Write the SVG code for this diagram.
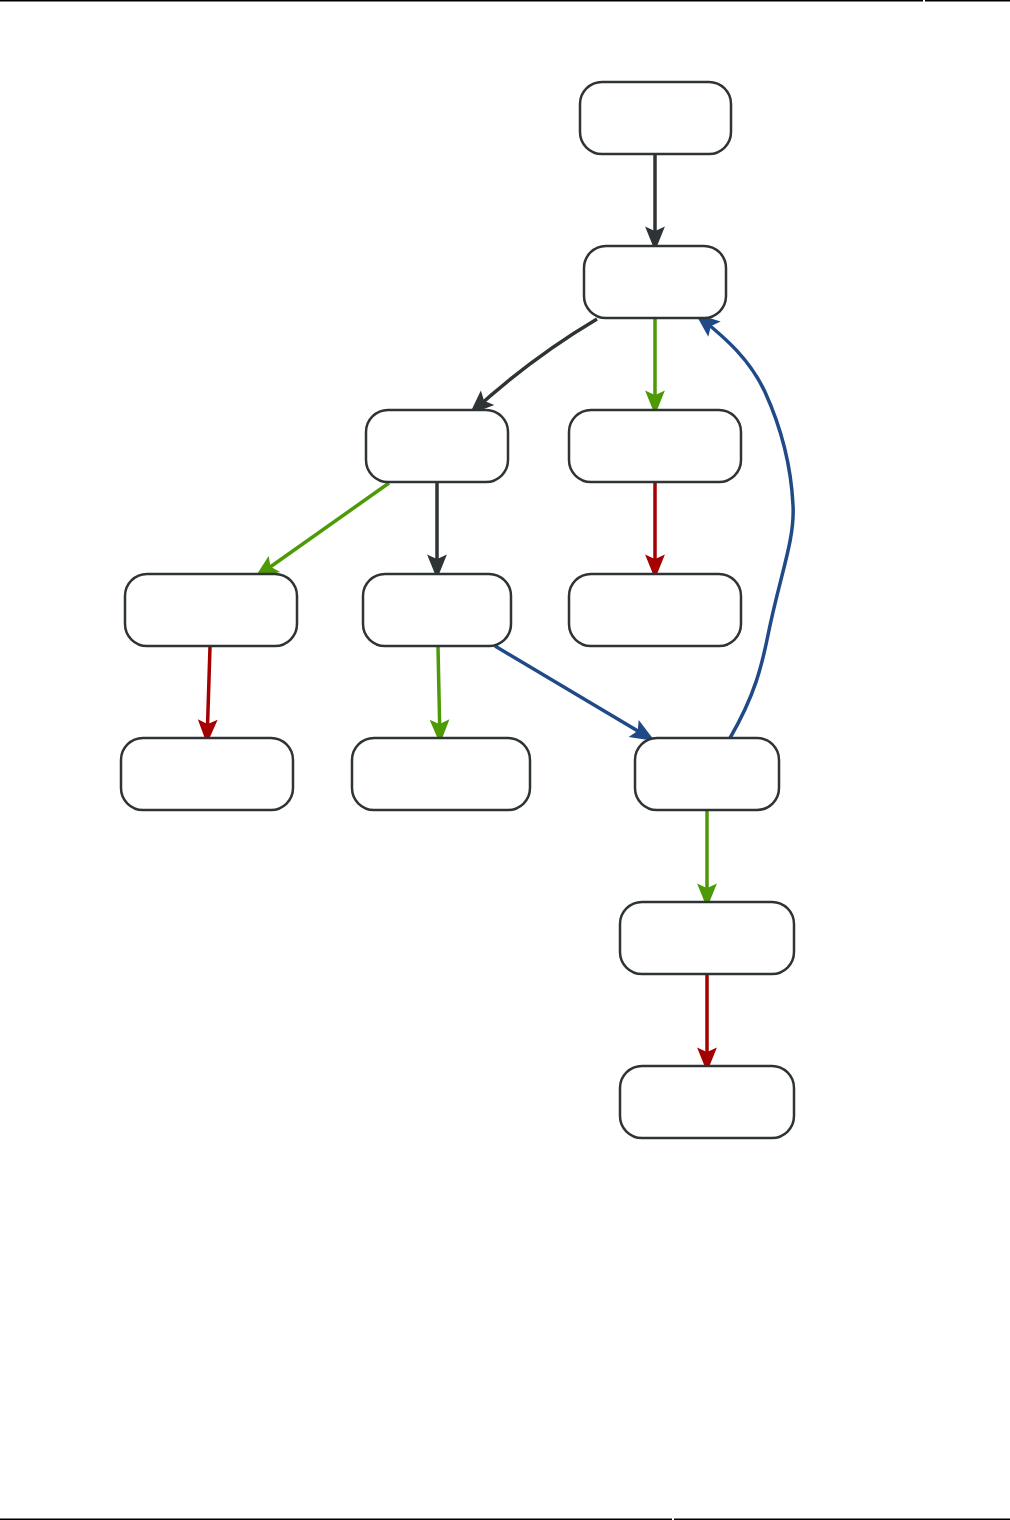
<svg xmlns="http://www.w3.org/2000/svg" width="1010" height="1520" viewBox="0 0 1010 1520">
<style>
.node rect{fill:#ffffff;stroke:#2e3436;stroke-width:2.5}
.e{fill:none;stroke-width:3.5}
.dk{stroke:#2e3436}.gr{stroke:#4e9a06}.rd{stroke:#a40000}.bl{stroke:#204a87}
.border{stroke:#000;stroke-width:1.5}
</style>
<defs>
<marker id="mdk" markerUnits="userSpaceOnUse" markerWidth="28" markerHeight="24" viewBox="-25 -12 28 24" refX="0" refY="0" orient="auto"><path d="M0,0 L-21,-8.5 L-17,0 L-21,8.5 Z" fill="#2e3436" stroke="#2e3436" stroke-width="1.5"/></marker>
<marker id="mgr" markerUnits="userSpaceOnUse" markerWidth="28" markerHeight="24" viewBox="-25 -12 28 24" refX="0" refY="0" orient="auto"><path d="M0,0 L-21,-8.5 L-17,0 L-21,8.5 Z" fill="#4e9a06" stroke="#4e9a06" stroke-width="1.5"/></marker>
<marker id="mrd" markerUnits="userSpaceOnUse" markerWidth="28" markerHeight="24" viewBox="-25 -12 28 24" refX="0" refY="0" orient="auto"><path d="M0,0 L-21,-8.5 L-17,0 L-21,8.5 Z" fill="#a40000" stroke="#a40000" stroke-width="1.5"/></marker>
<marker id="mbl" markerUnits="userSpaceOnUse" markerWidth="28" markerHeight="24" viewBox="-25 -12 28 24" refX="0" refY="0" orient="auto"><path d="M0,0 L-21,-8.5 L-17,0 L-21,8.5 Z" fill="#204a87" stroke="#204a87" stroke-width="1.5"/></marker>
</defs>
<rect x="0" y="0" width="1010" height="1520" fill="#ffffff"/>
<g id="borders">
<line class="border" x1="0" y1="0.75" x2="923" y2="0.75"/>
<line class="border" x1="925" y1="0.75" x2="1010" y2="0.75"/>
<line class="border" x1="0" y1="1519.25" x2="672" y2="1519.25"/>
<line class="border" x1="674" y1="1519.25" x2="1010" y2="1519.25"/>
</g>
<g id="connectors">
<path class="e dk" d="M655,155 L655,249" marker-end="url(#mdk)"/>
<path class="e dk" d="M597,319 C565,338 520,368 471,413" marker-end="url(#mdk)"/>
<path class="e gr" d="M655,319 L655,413" marker-end="url(#mgr)"/>
<path class="e rd" d="M655,483 L655,577" marker-end="url(#mrd)"/>
<path class="e gr" d="M389,483 L256,577" marker-end="url(#mgr)"/>
<path class="e dk" d="M437,483 L437,577" marker-end="url(#mdk)"/>
<path class="e rd" d="M210,647 L207,742" marker-end="url(#mrd)"/>
<path class="e gr" d="M438,647 L440,742" marker-end="url(#mgr)"/>
<path class="e bl" d="M495,646 L653,740" marker-end="url(#mbl)"/>
<path class="e bl" d="M730,738 C755,695 762,665 768,635 C780,575 795,540 793,505 C791,465 780,425 765,392 C750,360 728,340 697,315" marker-end="url(#mbl)"/>
<path class="e gr" d="M707,811 L707,906" marker-end="url(#mgr)"/>
<path class="e rd" d="M707,975 L707,1070" marker-end="url(#mrd)"/>
</g>
<g id="n1" class="node"><rect x="580" y="82" width="151" height="72" rx="22"/></g>
<g id="n2" class="node"><rect x="584" y="246" width="142" height="72" rx="22"/></g>
<g id="n3" class="node"><rect x="366" y="410" width="142" height="72" rx="22"/></g>
<g id="n4" class="node"><rect x="569" y="410" width="172" height="72" rx="22"/></g>
<g id="n5" class="node"><rect x="125" y="574" width="172" height="72" rx="22"/></g>
<g id="n6" class="node"><rect x="363" y="574" width="148" height="72" rx="22"/></g>
<g id="n7" class="node"><rect x="569" y="574" width="172" height="72" rx="22"/></g>
<g id="n8" class="node"><rect x="121" y="738" width="172" height="72" rx="22"/></g>
<g id="n9" class="node"><rect x="352" y="738" width="178" height="72" rx="22"/></g>
<g id="n10" class="node"><rect x="635" y="738" width="144" height="72" rx="22"/></g>
<g id="n11" class="node"><rect x="620" y="902" width="174" height="72" rx="22"/></g>
<g id="n12" class="node"><rect x="620" y="1066" width="174" height="72" rx="22"/></g>
</svg>
